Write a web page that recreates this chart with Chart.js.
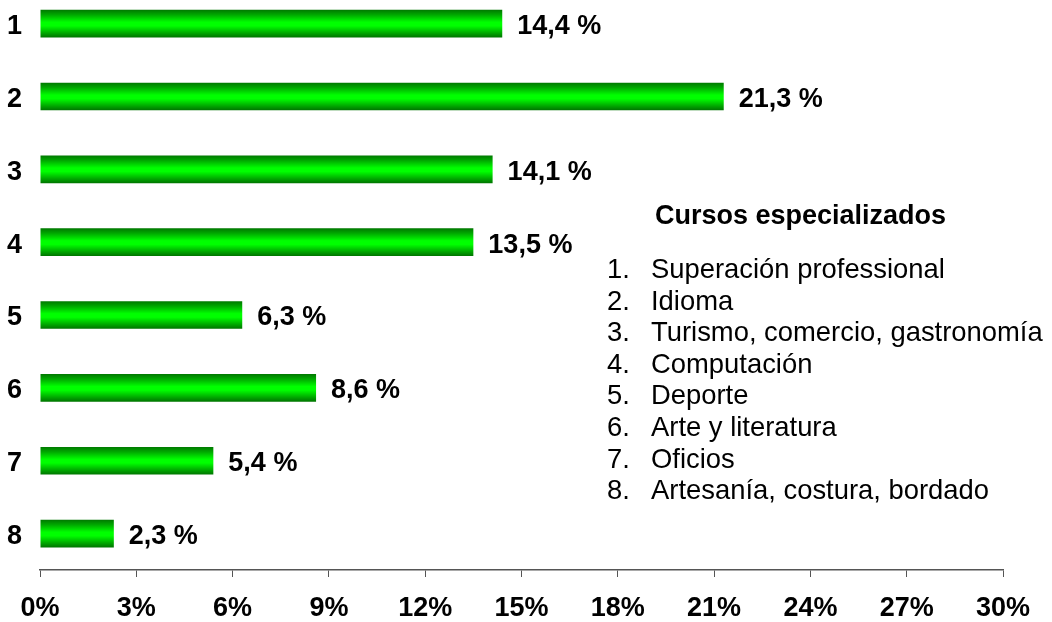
<!DOCTYPE html>
<html>
<head>
<meta charset="utf-8">
<script src="https://cdn.jsdelivr.net/npm/chart.js@4"></script>
<style>
  body { margin: 0; background: #fff; overflow: hidden; font-family: "Liberation Sans", Arial, sans-serif; }
  /* chart area runs a little above the page top, as in the original picture */
  #wrap { position: absolute; left: 0; top: -47px; width: 1052px; height: 669px; }
  #legend { position: absolute; left: 0; top: 0; color: #000; font-size: 27.4px; }
  #legend .title { position: absolute; left: 655px; top: 199px; font-weight: bold; font-size: 27px; line-height: 32px; white-space: nowrap; }
  #legend .list { position: absolute; left: 607px; top: 253px; line-height: 31.6px; white-space: nowrap; }
  #legend .num { display: inline-block; width: 44px; }
</style>
</head>
<body>
<div id="wrap"><canvas id="chart"></canvas></div>
<div id="legend">
  <div class="title">Cursos especializados</div>
  <div class="list" id="list"></div>
</div>
<script>
const categories = ['1', '2', '3', '4', '5', '6', '7', '8']
const values = [14.4, 21.3, 14.1, 13.5, 6.3, 8.6, 5.4, 2.3]
const courseNames = [
  'Superación professional',
  'Idioma',
  'Turismo, comercio, gastronomía',
  'Computación',
  'Deporte',
  'Arte y literatura',
  'Oficios',
  'Artesanía, costura, bordado'
]
const xTicks = [0, 3, 6, 9, 12, 15, 18, 21, 24, 27, 30]

const list = document.getElementById('list')
courseNames.forEach((name, i) => {
  const row = document.createElement('div')
  row.innerHTML = '<span class="num">' + categories[i] + '.</span>' + name
  list.appendChild(row)
})

const font = '"Liberation Sans", Arial, sans-serif'

// green tube look on every bar (each bar gets its own options copy)
const barShade = {
  id: 'barShade',
  beforeDatasetsDraw(chart) {
    const ctx = chart.ctx
    chart.getDatasetMeta(0).data.forEach(bar => {
      const top = bar.y - bar.height / 2
      const g = ctx.createLinearGradient(0, top, 0, top + bar.height)
      g.addColorStop(0, '#007800')
      g.addColorStop(0.18, '#00a800')
      g.addColorStop(0.45, '#00ff00')
      g.addColorStop(0.58, '#00ff00')
      g.addColorStop(0.85, '#00a400')
      g.addColorStop(1, '#007400')
      bar.options = Object.assign({}, bar.options, { backgroundColor: g })
    })
  }
}

const valueLabels = {
  id: 'valueLabels',
  afterDatasetsDraw(chart) {
    const ctx = chart.ctx
    ctx.save()
    ctx.font = 'bold 27px ' + font
    ctx.fillStyle = '#000'
    ctx.textBaseline = 'middle'
    ctx.textAlign = 'left'
    chart.getDatasetMeta(0).data.forEach((bar, i) => {
      ctx.fillText(values[i].toFixed(1).replace('.', ',') + ' %', bar.x + 15, bar.y + 3)
    })
    ctx.restore()
  }
}

const myChart = new Chart(document.getElementById('chart'), {
  type: 'bar',
  data: {
    labels: categories,
    datasets: [{
      data: values,
      backgroundColor: '#00cc00',
      borderWidth: 0,
      barPercentage: 0.38,
      categoryPercentage: 1
    }]
  },
  options: {
    indexAxis: 'y',
    responsive: true,
    maintainAspectRatio: false,
    animation: false,
    layout: { padding: { left: 0, right: 49, top: 0, bottom: 0 } },
    plugins: { legend: { display: false }, tooltip: { enabled: false } },
    scales: {
      x: {
        min: 0,
        max: 30,
        afterBuildTicks: axis => { axis.ticks = xTicks.map(v => ({ value: v })) },
        afterFit: axis => { axis.height = 52 },
        grid: { drawOnChartArea: false, drawTicks: true, tickLength: 7, color: '#555' },
        border: { color: '#555', width: 1.5 },
        ticks: {
          color: '#000',
          padding: 15,
          maxRotation: 0,
          font: { family: font, size: 27, weight: 'bold' },
          callback: v => v + '%'
        }
      },
      y: {
        afterFit: axis => { axis.width = 40 },
        grid: { display: false, drawTicks: false },
        border: { display: false },
        ticks: {
          color: '#000',
          padding: 18,
          labelOffset: 3,
          font: { family: font, size: 27, weight: 'bold' }
        }
      }
    }
  },
  plugins: [barShade, valueLabels]
})
</script>
</body>
</html>
